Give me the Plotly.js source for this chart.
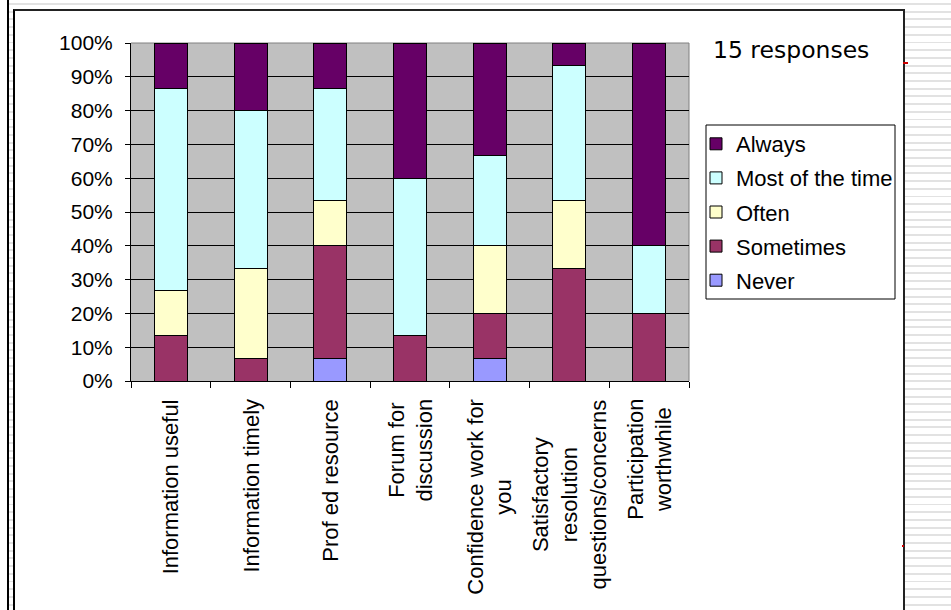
<!DOCTYPE html>
<html>
<head>
<meta charset="utf-8">
<script src="https://cdn.plot.ly/plotly-3.0.1.min.js"></script>
<style>
  html, body { margin:0; padding:0; width:951px; height:610px; overflow:hidden; background:#ffffff; }
  #stripes { position:absolute; left:9px; top:0; width:942px; height:610px;
    background: repeating-linear-gradient(to bottom, #ffffff 0px, #ffffff 3px, #e2e2e2 3px, #e2e2e2 5px, #ffffff 5px, #ffffff 7.7px); }
  #line1 { position:absolute; left:7px; top:0; width:2px; height:610px; background:#000; }
  #box { position:absolute; left:13px; top:9px; width:888px; height:605px; background:#fff;
    border-left:2px solid #000; border-top:2px solid #222; border-right:2px solid #222; }
  .red { position:absolute; background:#cc0000; }
  #chart { position:absolute; left:0; top:0; width:951px; height:610px; }
</style>
</head>
<body>
<div id="stripes"></div>
<div id="line1"></div>
<div id="box"></div>
<div class="red" style="left:903px; top:62px; width:5px; height:2px;"></div>
<div class="red" style="left:902px; top:545px; width:2px; height:2px;"></div>
<div id="chart"></div>
<script>
// Categories (x axis tick labels)
const categories = [
  'Information useful',
  'Information timely',
  'Prof ed resource',
  'Forum for<br>discussion',
  'Confidence work for<br>you',
  'Satisfactory<br>resolution<br>questions/concerns',
  'Participation<br>worthwhile'
];
// Response counts (15 responses per question)
const never     = [0, 0, 1, 0, 1, 0, 0];
const sometimes = [2, 1, 5, 2, 2, 5, 3];
const often     = [2, 4, 2, 0, 3, 3, 0];
const most      = [9, 7, 5, 7, 4, 6, 3];
const always    = [2, 3, 2, 6, 5, 1, 9];

const seriesNames  = ['Never', 'Sometimes', 'Often', 'Most of the time', 'Always'];
const seriesValues = [never, sometimes, often, most, always];
const seriesColors = ['#9999FF', '#993366', '#FFFFCC', '#CCFFFF', '#660066'];

const noteText = '15 responses';

const FONT = 'Liberation Sans, Arial, sans-serif';

const traces = seriesNames.map((name, i) => ({
  type: 'bar',
  name: name,
  x: categories,
  y: seriesValues[i],
  legendgroup: name,
  legendrank: seriesNames.length - i,
  marker: { color: seriesColors[i], line: { color: '#000000', width: 1 } },
  hoverinfo: 'skip'
}));

const W = 951, H = 610;
const L = 131, R = 689, T = 43, B = 381;
const px = v => (v - L) / (R - L);
const py = v => (B - v) / (B - T);

// category labels drawn centered (multi-line) below the axis, at the axis category positions
const catLabels = categories.map(c => ({
  text: c, xref: 'x', yref: 'paper', x: c, y: py(397),
  xanchor: 'center', yanchor: 'top', textangle: -90, align: 'center',
  showarrow: false, font: { family: FONT, size: 22, color: '#000' }
}));

const layout = {
  width: W, height: H,
  margin: { l: L, r: W - R, t: T, b: H - B, pad: 0 },
  paper_bgcolor: 'rgba(0,0,0,0)',
  plot_bgcolor: '#C0C0C0',
  barmode: 'stack',
  barnorm: 'fraction',
  bargap: 0.585,
  showlegend: true,
  font: { family: FONT, color: '#000000', size: 21 },
  xaxis: {
    type: 'category',
    tickson: 'boundaries',
    ticks: 'outside', ticklen: 6, tickcolor: '#000', tickwidth: 1,
    showticklabels: false,
    showline: true, linecolor: '#000', linewidth: 1,
    showgrid: false,
    automargin: false,
    fixedrange: true
  },
  yaxis: {
    range: [0, 1],
    dtick: 0.1,
    tickformat: '.0%',
    ticks: 'outside', ticklen: 5, tickcolor: '#000', tickwidth: 1,
    ticklabelstandoff: 8,
    showline: true, linecolor: '#000', linewidth: 1,
    showgrid: true, gridcolor: '#000000', gridwidth: 1,
    zeroline: false,
    tickfont: { family: FONT, size: 21, color: '#000' },
    automargin: false,
    fixedrange: true
  },
  legend: {
    x: px(696), xanchor: 'left',
    y: py(123), yanchor: 'top',
    bgcolor: 'rgba(0,0,0,0)',
    borderwidth: 0,
    traceorder: 'grouped',
    tracegroupgap: 2.5,
    font: { family: FONT, size: 22, color: '#000' }
  },
  shapes: [
    { type: 'rect', xref: 'paper', yref: 'paper', x0: px(706), x1: px(895), y0: py(299), y1: py(125),
      line: { color: '#000', width: 1 }, fillcolor: '#ffffff', layer: 'below' },
    { type: 'line', xref: 'paper', yref: 'paper', x0: 0, x1: 1, y0: 1, y1: 1,
      line: { color: '#808080', width: 1 }, layer: 'below' },
    { type: 'line', xref: 'paper', yref: 'paper', x0: 1, x1: 1, y0: 0, y1: 1,
      line: { color: '#808080', width: 1 }, layer: 'below' }
  ],
  annotations: [
    { text: noteText, xref: 'paper', yref: 'paper', x: px(711), y: py(50),
      xanchor: 'left', yanchor: 'middle', showarrow: false,
      font: { family: 'DejaVu Sans, Verdana, sans-serif', size: 23.5, color: '#000' } }
  ].concat(catLabels)
};

Plotly.newPlot('chart', traces, layout, { staticPlot: true, displayModeBar: false });
</script>
</body>
</html>
